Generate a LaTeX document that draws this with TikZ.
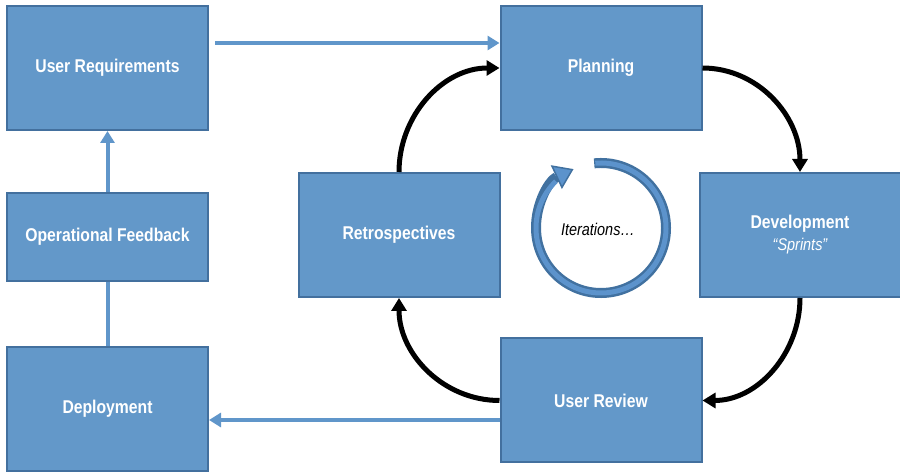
\documentclass[tikz,border=0pt]{standalone}
\usepackage{fontspec}
\setmainfont{Liberation Sans}[FakeStretch=0.85]
\usetikzlibrary{arrows.meta}
\definecolor{boxfill}{RGB}{99,152,201}
\definecolor{boxline}{RGB}{67,112,158}
\definecolor{flowblue}{RGB}{96,150,202}
\definecolor{ringdark}{RGB}{65,113,160}
\definecolor{ringlight}{RGB}{92,147,204}

\begin{document}
\begin{tikzpicture}[x=1pt,y=1pt,
    box/.style={draw=boxline, line width=2pt, fill=boxfill, minimum width=201pt, minimum height=124pt,
      inner sep=0pt, align=center, text=white, font=\fontsize{18.5}{22}\selectfont\bfseries},
    flow/.style={draw=flowblue, line width=4pt, -{Triangle[width=14pt,length=12pt]}},
    cyclearrow/.style={line width=5pt, -{Triangle[width=15pt,length=13pt]}}]
  \useasboundingbox (0,0) rectangle (900,474);

  \node[box] (req) at (107.5,406) {User Requirements};
  \node[box, minimum height=88pt] (feed) at (107.5,237) {Operational Feedback};
  \node[box] (dep) at (107.5,65) {Deployment};
  \node[box] (plan) at (601,406) {Planning};
  \node[box] (retro) at (399,239) {Retrospectives};
  \node[box] (dev) at (800,239) {Development\\[0pt]{\mdseries\itshape\fontsize{17}{19}\selectfont “Sprints”}};
  \node[box] (rev) at (601,73.5) {User Review};

  % the iteration ring
  \coordinate (ring) at (601,246);
  \draw[ringdark, line width=10pt, -{Triangle[width=26pt,length=19pt,fill=ringlight,line width=1.5pt]}]
    ([shift={(96:65)}]ring) arc[start angle=96, end angle=-245, radius=65];
  \draw[ringlight, line width=5pt]
    ([shift={(95:65)}]ring) arc[start angle=95, end angle=-226, radius=65];
  \node[font=\fontsize{17}{19}\selectfont\itshape] (iter) at (598,245) {Iterations…};

  \draw[cyclearrow] (plan.east) to[out=0,in=90] (dev.north);
  \draw[cyclearrow] (dev.south) to[out=-90,in=0] (rev.east);
  \draw[cyclearrow] (rev.west) to[out=180,in=-90] (retro.south);
  \draw[cyclearrow] (retro.north) to[out=90,in=180] (plan.west);

  \draw[flow] ([shift={(6pt,25pt)}]req.east) -- ([yshift=25pt]plan.west);
  \draw[flow] (feed.north) -- (req.south);
  \draw[flowblue, line width=4pt] (dep.north) -- (feed.south);
  \draw[flow] ([yshift=-19.5pt]rev.west) -- ([yshift=-19.5pt]rev.west -| dep.east);
\end{tikzpicture}
\end{document}
